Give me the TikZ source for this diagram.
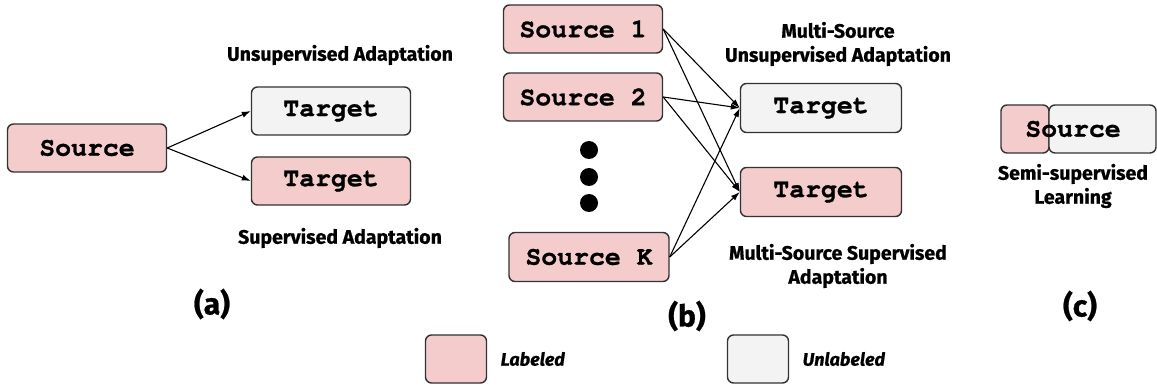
\documentclass[tikz,border=0pt]{standalone}
\usepackage{fontspec}
\setmainfont{Fira Sans}[BoldFeatures={FakeBold=0.8}, BoldItalicFeatures={FakeBold=0.8}]
\setmonofont{texgyrecursor}[Extension=.otf, UprightFont=*-regular, BoldFont=*-bold, BoldFeatures={FakeBold=1}]
\usetikzlibrary{positioning, arrows.meta}
\definecolor{lblpink}{HTML}{F4CCCC}
\definecolor{unlblgray}{HTML}{F3F3F3}
\definecolor{edgegray}{HTML}{333333}

\begin{document}
\begin{tikzpicture}[
    x=1pt, y=-1pt,
    box/.style={draw=edgegray, line width=1.4pt, rounded corners=6pt, minimum width=159pt, minimum height=48pt, inner sep=0pt, font=\ttfamily\bfseries\fontsize{26.5}{26.5}\selectfont},
    lab/.style={box, fill=lblpink},
    unlab/.style={box, fill=unlblgray},
    title/.style={font=\bfseries\fontsize{19.5}{24}\selectfont, align=center},
    tag/.style={font=\bfseries\fontsize{30}{30}\selectfont},
    legend/.style={font=\bfseries\itshape\fontsize{18}{18}\selectfont, anchor=west},
    arr/.style={-{Latex[length=9pt,width=6pt]}, line width=1.1pt},
  ]
  \useasboundingbox (0,0) rectangle (1157,387);

  % (a) single source
  \node[lab] (src) at (87,148) {Source};
  \node[unlab] (tgtu) at (331,111) {Target};
  \node[lab] (tgtl) at (331,181) {Target};
  \node[title] (capu) at (340,55) {Unsupervised Adaptation};
  \node[title] (capl) at (340,238) {Supervised Adaptation};
  \draw[arr] (src.east) -- (tgtu.west);
  \draw[arr] (src.east) -- (tgtl.west);
  \node[tag] (taga) at (212,304) {(a)};

  % (b) multiple sources
  \node[lab] (s1) at (583,29) {Source 1};
  \node[lab] (s2) at (583,97) {Source 2};
  \node[lab, minimum width=160pt, minimum height=49pt] (sk) at (589,257) {Source K};
  \foreach \y in {150,177,203}
    \fill (589,\y) circle (9pt);
  \node[unlab, minimum width=161pt, minimum height=49pt] (mtu) at (821,108) {Target};
  \node[lab, minimum width=161pt, minimum height=49pt] (mtl) at (821,192) {Target};
  \node[title] (mcapu) at (838,44) {Multi-Source\\Unsupervised Adaptation};
  \node[title] (mcapl) at (838,266) {Multi-Source Supervised\\Adaptation};
  \foreach \s in {s1,s2,sk} {
    \draw[arr] (\s.east) -- (mtu.west);
    \draw[arr] (\s.east) -- (mtl.west);
  }
  \node[tag] (tagb) at (687,316) {(b)};

  % (c) semi-supervised
  \node[box, fill=lblpink, minimum width=48pt] (semil) at (1025,129) {};
  \node[box, fill=unlblgray, minimum width=107pt] (semiu) at (1102.5,129) {};
  \node[font=\ttfamily\bfseries\fontsize{26.5}{26.5}\selectfont] (semitxt) at (1073,129) {Source};
  \node[title] (semicap) at (1073,186) {Semi-supervised\\Learning};
  \node[tag] (tagc) at (1080,306) {(c)};

  % legend
  \node[lab, minimum width=61pt] (keyl) at (456,359) {};
  \node[legend, right=10pt of keyl] (keyltxt) {Labeled};
  \node[unlab, minimum width=61pt] (keyu) at (758,359) {};
  \node[legend, right=10pt of keyu] (keyutxt) {Unlabeled};
\end{tikzpicture}
\end{document}
